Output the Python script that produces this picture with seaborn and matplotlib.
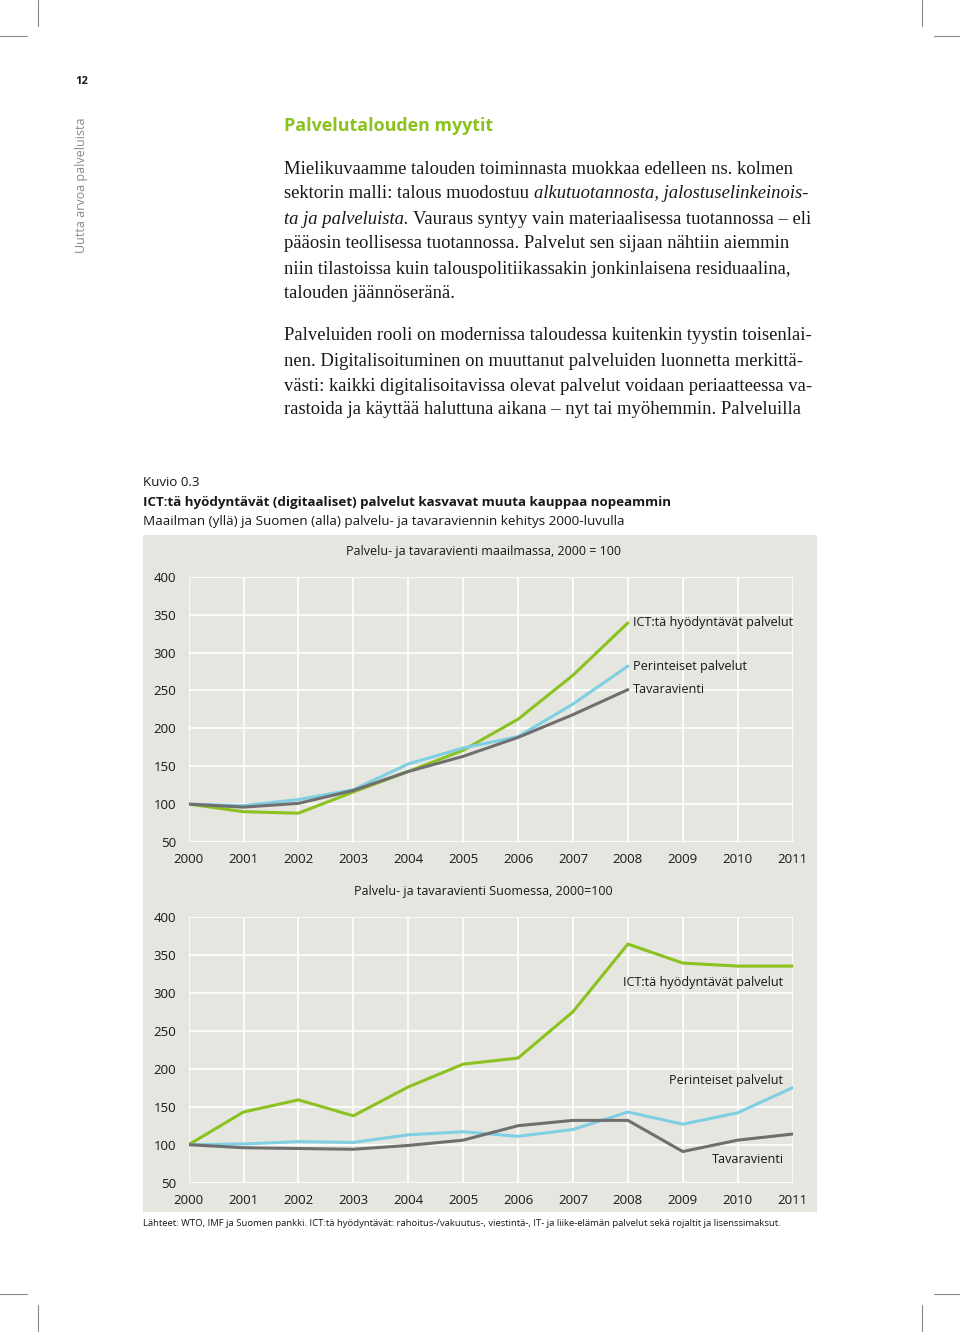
import matplotlib
matplotlib.use("Agg")
import matplotlib.pyplot as plt
from matplotlib.patches import Rectangle
from matplotlib.lines import Line2D
import seaborn as sns
import pandas as pd

# --- data ---
years = list(range(2000, 2012))
series_names = ["ICT:tä hyödyntävät palvelut", "Perinteiset palvelut", "Tavaravienti"]

world_ict = [100, 90, 88, 116, 143, 171, 212, 270, 339]
world_trad = [100, 98, 106, 119, 153, 174, 189, 232, 282]
world_goods = [100, 96, 101, 118, 143, 163, 188, 218, 251]

fin_ict = [100, 143, 159, 138, 176, 206, 214, 275, 364, 339, 335, 335]
fin_trad = [100, 101, 104, 103, 113, 117, 111, 120, 143, 127, 142, 175]
fin_goods = [100, 96, 95, 94, 99, 106, 125, 132, 132, 91, 106, 114]

y_ticks = [50, 100, 150, 200, 250, 300, 350, 400]

body_lines = [
    [("Mielikuvaamme talouden toiminnasta muokkaa edelleen ns. kolmen", "normal")],
    [("sektorin malli: talous muodostuu", "normal"), ("alkutuotannosta, jalostuselinkeinois-", "italic")],
    [("ta ja palveluista.", "italic"), ("Vauraus syntyy vain materiaalisessa tuotannossa – eli", "normal")],
    [("pääosin teollisessa tuotannossa. Palvelut sen sijaan nähtiin aiemmin", "normal")],
    [("niin tilastoissa kuin talouspolitiikassakin jonkinlaisena residuaalina,", "normal")],
    [("talouden jäännöseränä.", "normal")],
    [("Palveluiden rooli on modernissa taloudessa kuitenkin tyystin toisenlai-", "normal")],
    [("nen. Digitalisoituminen on muuttanut palveluiden luonnetta merkittä-", "normal")],
    [("västi: kaikki digitalisoitavissa olevat palvelut voidaan periaatteessa va-", "normal")],
    [("rastoida ja käyttää haluttuna aikana – nyt tai myöhemmin. Palveluilla", "normal")],
]
body_y = [170, 194, 219, 244, 269, 293, 336, 361, 386, 410]

W, H = 960, 1332
GREEN = "#8cc21f"
BLUE = "#7fcfe3"
GREY = "#6f6f6f"
BG = "#e6e6e1"
INK = "#1a1718"
palette = {series_names[0]: GREEN, series_names[1]: BLUE, series_names[2]: GREY}

sns.set_style("white")
plt.rcParams["font.family"] = ["Open Sans", "DejaVu Sans"]


def fx(px):
    return px / W


def fy(py):
    return 1 - py / H


def make_df(ict, trad, goods):
    rows = []
    for name, vals in zip(series_names, [ict, trad, goods]):
        for yr, v in zip(years, vals):
            rows.append({"year": yr, "value": v, "series": name})
    return pd.DataFrame(rows)


fig = plt.figure(figsize=(W / 100, H / 100), dpi=100)
fig.patch.set_facecolor("white")

# crop marks
mark = dict(color="#8a8a8a", lw=0.8, transform=fig.transFigure)
for x0 in [38, 922]:
    fig.add_artist(Line2D([fx(x0), fx(x0)], [fy(0), fy(26)], **mark))
    fig.add_artist(Line2D([fx(x0), fx(x0)], [fy(1305), fy(1332)], **mark))
for (a, b) in [(0, 27), (934, 960)]:
    fig.add_artist(Line2D([fx(a), fx(b)], [fy(36), fy(36)], **mark))
    fig.add_artist(Line2D([fx(a), fx(b)], [fy(1294), fy(1294)], **mark))

# page header
fig.text(fx(82), fy(82), "12", fontsize=8, fontweight="bold", ha="center", va="center", color=INK)
fig.text(fx(82), fy(185), "Uutta arvoa palveluista", fontsize=9.0, color="#8a8a8a",
         rotation=90, ha="center", va="center")
fig.text(fx(284), fy(126), "Palvelutalouden myytit", fontsize=12.9, fontweight="bold",
         color=GREEN, ha="left", va="center")

# body text with italic runs
renderer = fig.canvas.get_renderer()
serif = ["Liberation Serif", "DejaVu Serif"]
body_size = 13.4


def text_width(s, style):
    t = fig.text(0, 0, s, fontsize=body_size, family=serif, style=style)
    w = t.get_window_extent(renderer).width
    t.remove()
    return w


space_w = text_width("a a", "normal") - text_width("aa", "normal")
for runs, yy in zip(body_lines, body_y):
    x = 284
    for s, style in runs:
        t = fig.text(fx(x), fy(yy), s, fontsize=body_size, family=serif, style=style,
                     ha="left", va="center", color=INK)
        x += t.get_window_extent(renderer).width + space_w

# figure heading
fig.text(fx(143), fy(483), "Kuvio 0.3", fontsize=9.6, ha="left", va="center", color=INK)
fig.text(fx(143), fy(503), "ICT:tä hyödyntävät (digitaaliset) palvelut kasvavat muuta kauppaa nopeammin",
         fontsize=9.6, fontweight="bold", ha="left", va="center", color=INK)
fig.text(fx(143), fy(522), "Maailman (yllä) ja Suomen (alla) palvelu- ja tavaraviennin kehitys 2000-luvulla",
         fontsize=9.7, ha="left", va="center", color=INK)

fig.add_artist(Rectangle((fx(143), fy(1212)), (817 - 143) / W, (1212 - 535) / H,
                         transform=fig.transFigure, facecolor=BG, edgecolor="none", zorder=0))

fig.text(fx(143), fy(1224),
         "Lähteet: WTO, IMF ja Suomen pankki. ICT:tä hyödyntävät: rahoitus-/vakuutus-, viestintä-, "
         "IT- ja liike-elämän palvelut sekä rojaltit ja lisenssimaksut.",
         fontsize=6.8, ha="left", va="center", color=INK)


def style_axes(ax, title, title_y):
    ax.set_facecolor(BG)
    ax.set_xlim(2000, 2011)
    ax.set_ylim(50, 400)
    ax.set_xticks(years)
    ax.set_yticks(y_ticks)
    ax.grid(True, color="white", lw=1.2)
    ax.set_axisbelow(True)
    for sp in ax.spines.values():
        sp.set_visible(False)
    ax.tick_params(axis="both", length=0, labelsize=9.5, colors=INK)
    ax.tick_params(axis="y", pad=9)
    ax.tick_params(axis="x", pad=8)
    ax.set_xlabel("")
    ax.set_ylabel("")
    legend = ax.get_legend()
    if legend is not None:
        legend.remove()
    fig.text(fx(483), fy(title_y), title, fontsize=9.0, ha="center", va="center", color=INK)


# top chart: world
ax1 = fig.add_axes([fx(188.6), fy(842), 604 / W, 265.3 / H])
df_world = make_df(world_ict, world_trad, world_goods)
sns.lineplot(data=df_world, x="year", y="value", hue="series", palette=palette,
             linewidth=2.2, ax=ax1)
style_axes(ax1, "Palvelu- ja tavaravienti maailmassa, 2000 = 100", 552)
for name, vals in zip(series_names, [world_ict, world_trad, world_goods]):
    ax1.annotate(name, (years[len(vals) - 1], vals[-1]), xytext=(3.5, 0),
                 textcoords="offset points", fontsize=9.1, ha="left", va="center", color=INK)

# bottom chart: Finland
ax2 = fig.add_axes([fx(188.6), fy(1182.7), 604 / W, 266 / H])
df_fin = make_df(fin_ict, fin_trad, fin_goods)
sns.lineplot(data=df_fin, x="year", y="value", hue="series", palette=palette,
             linewidth=2.2, ax=ax2)
style_axes(ax2, "Palvelu- ja tavaravienti Suomessa, 2000=100", 892)
ax2.text(2010.82, 314, series_names[0], fontsize=9.1, ha="right", va="center", color=INK)
ax2.text(2010.82, 185, series_names[1], fontsize=9.1, ha="right", va="center", color=INK)
ax2.text(2010.85, 81, series_names[2], fontsize=9.1, ha="right", va="center", color=INK)

fig.savefig("out.png", dpi=100, facecolor="white")
